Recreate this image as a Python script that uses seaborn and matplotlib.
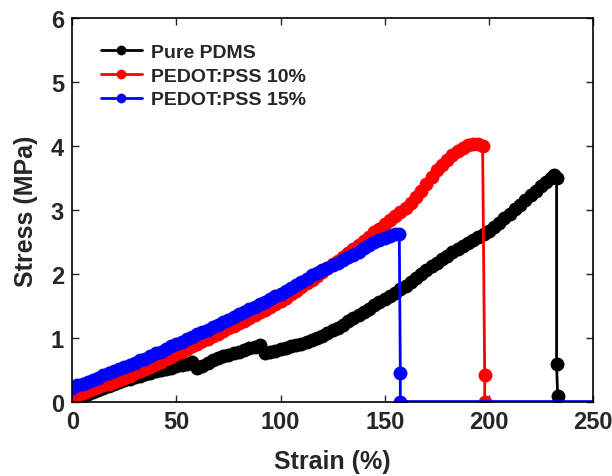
import matplotlib
matplotlib.use("Agg")
import matplotlib.pyplot as plt
import seaborn as sns
import pandas as pd

# ---- data ----
pdms_strain = [0, 2.5, 5, 7.5, 10, 12.5, 15, 17.5, 20, 22.5, 25, 27.5, 30, 32.5, 35, 37.5,
               40, 42.5, 45, 47.5, 50, 52.5, 55, 57.5, 60, 62.5, 65, 67.5, 70, 72.5, 75,
               77.5, 80, 82.5, 85, 87.5, 90, 92.5, 95, 97.5, 100, 102.5, 105, 107.5, 110,
               112.5, 115, 117.5, 120, 122.5, 125, 127.5, 130, 132.5, 135, 137.5, 140,
               142.5, 145, 147.5, 150, 152.5, 155, 157.5, 160, 162.5, 165, 167.5, 170,
               172.5, 175, 177.5, 180, 182.5, 185, 187.5, 190, 192.5, 195, 197.5, 200,
               202.5, 205, 207.5, 210, 212.5, 215, 217.5, 220, 222.5, 225, 227.5, 230,
               231.5, 232.5, 232.5, 233]
pdms_stress = [0.04, 0.07, 0.10, 0.13, 0.16, 0.19, 0.22, 0.25, 0.28, 0.31, 0.34, 0.36, 0.39,
               0.41, 0.44, 0.46, 0.48, 0.50, 0.52, 0.54, 0.56, 0.58, 0.60, 0.62, 0.53, 0.57,
               0.61, 0.65, 0.69, 0.72, 0.74, 0.77, 0.79, 0.82, 0.84, 0.86, 0.89, 0.76, 0.78,
               0.80, 0.83, 0.85, 0.87, 0.89, 0.91, 0.94, 0.97, 1.00, 1.04, 1.08, 1.12, 1.16,
               1.21, 1.26, 1.31, 1.36, 1.41, 1.46, 1.51, 1.56, 1.61, 1.66, 1.71, 1.76, 1.82,
               1.88, 1.94, 2.00, 2.06, 2.12, 2.18, 2.24, 2.29, 2.34, 2.39, 2.44, 2.49, 2.54,
               2.58, 2.63, 2.68, 2.74, 2.80, 2.87, 2.94, 3.01, 3.08, 3.15, 3.23, 3.30, 3.37,
               3.44, 3.50, 3.55, 3.50, 0.60, 0.10]

p10_strain = [0, 2.5, 5, 7.5, 10, 12.5, 15, 17.5, 20, 22.5, 25, 27.5, 30, 32.5, 35, 37.5,
              40, 42.5, 45, 47.5, 50, 52.5, 55, 57.5, 60, 62.5, 65, 67.5, 70, 72.5, 75,
              77.5, 80, 82.5, 85, 87.5, 90, 92.5, 95, 97.5, 100, 102.5, 105, 107.5, 110,
              112.5, 115, 117.5, 120, 122.5, 125, 127.5, 130, 132.5, 135, 137.5, 140,
              142.5, 145, 147.5, 150, 152.5, 155, 157.5, 160, 162.5, 165, 167.5, 170,
              172.5, 175, 177.5, 180, 182.5, 185, 187.5, 190, 192.5, 195, 197, 198, 198]
p10_stress = [0.08, 0.11, 0.14, 0.17, 0.20, 0.23, 0.26, 0.29, 0.32, 0.35, 0.38, 0.41, 0.45,
              0.48, 0.52, 0.55, 0.59, 0.63, 0.67, 0.71, 0.75, 0.79, 0.83, 0.87, 0.91, 0.95,
              0.99, 1.03, 1.07, 1.11, 1.15, 1.19, 1.23, 1.27, 1.31, 1.36, 1.40, 1.44, 1.48,
              1.53, 1.58, 1.63, 1.69, 1.74, 1.80, 1.86, 1.91, 1.97, 2.03, 2.09, 2.15, 2.21,
              2.27, 2.33, 2.39, 2.46, 2.52, 2.58, 2.65, 2.71, 2.78, 2.85, 2.91, 2.97, 3.03,
              3.11, 3.20, 3.30, 3.41, 3.52, 3.62, 3.71, 3.79, 3.86, 3.92, 3.97, 4.01, 4.04,
              4.03, 4.00, 0.42, 0.0]

p15_strain = [0, 2.5, 5, 7.5, 10, 12.5, 15, 17.5, 20, 22.5, 25, 27.5, 30, 32.5, 35, 37.5,
              40, 42.5, 45, 47.5, 50, 52.5, 55, 57.5, 60, 62.5, 65, 67.5, 70, 72.5, 75,
              77.5, 80, 82.5, 85, 87.5, 90, 92.5, 95, 97.5, 100, 102.5, 105, 107.5, 110,
              112.5, 115, 117.5, 120, 122.5, 125, 127.5, 130, 132.5, 135, 137.5, 140,
              142.5, 145, 147.5, 150, 152.5, 155, 157, 157.5, 157.5]
p15_stress = [0.22, 0.26, 0.29, 0.32, 0.35, 0.38, 0.42, 0.45, 0.48, 0.51, 0.55, 0.58, 0.61,
              0.65, 0.68, 0.72, 0.76, 0.79, 0.83, 0.87, 0.91, 0.94, 0.98, 1.02, 1.06, 1.10,
              1.13, 1.17, 1.21, 1.25, 1.29, 1.33, 1.37, 1.41, 1.45, 1.49, 1.53, 1.57, 1.61,
              1.65, 1.69, 1.73, 1.78, 1.83, 1.88, 1.93, 1.98, 2.02, 2.06, 2.10, 2.14, 2.18,
              2.22, 2.26, 2.30, 2.35, 2.40, 2.45, 2.50, 2.54, 2.57, 2.60, 2.62, 2.63, 0.45, 0.0]
p15_tail_strain = [157.5, 250]
p15_tail_stress = [0.0, 0.0]

labels = ["Pure PDMS", "PEDOT:PSS 10%", "PEDOT:PSS 15%"]
colors = ["#000000", "#ff0000", "#0000ff"]
x_ticks = [0, 50, 100, 150, 200, 250]
y_ticks = [0, 1, 2, 3, 4, 5, 6]

sns.set_style("ticks")
plt.rcParams["font.family"] = ["Liberation Sans", "DejaVu Sans"]
plt.rcParams["font.weight"] = "bold"

fig = plt.figure(figsize=(6.12, 4.77), dpi=100)
ax = fig.add_axes([0.118, 0.155, 0.851, 0.805])

series = [(pdms_strain, pdms_stress), (p10_strain, p10_stress), (p15_strain, p15_stress)]
for (xs, ys), lab, col in zip(series, labels, colors):
    df = pd.DataFrame({"x": xs, "y": ys})
    sns.lineplot(data=df, x="x", y="y", sort=False, estimator=None, ax=ax,
                 color=col, marker="o", markersize=10, markeredgewidth=0,
                 linewidth=2.0, label=lab)
sns.lineplot(x=p15_tail_strain, y=p15_tail_stress, sort=False, estimator=None, ax=ax,
             color=colors[2], linewidth=3.4, legend=False)

ax.set_xlim(0, 250)
ax.set_ylim(0, 6)
ax.set_xticks(x_ticks)
ax.set_yticks(y_ticks)
ax.tick_params(direction="in", top=True, right=True, length=5, width=1.0,
               labelsize=17, pad=6)
for lab in ax.get_xticklabels() + ax.get_yticklabels():
    lab.set_fontweight("bold")
for sp in ax.spines.values():
    sp.set_linewidth(1.2)
    sp.set_color("black")

ax.set_xlabel("Strain (%)", fontsize=18, fontweight="bold", labelpad=11)
ax.set_ylabel("Stress (MPa)", fontsize=18, fontweight="bold", labelpad=9)

leg = ax.legend(loc="upper left", bbox_to_anchor=(0.04, 0.955), frameon=False,
                prop={"weight": "bold", "size": 14}, handlelength=2.1,
                handletextpad=0.5, labelspacing=0.32, borderaxespad=0)
for h in leg.legend_handles:
    h.set_markersize(7)

fig.savefig("out.png", dpi=100)
